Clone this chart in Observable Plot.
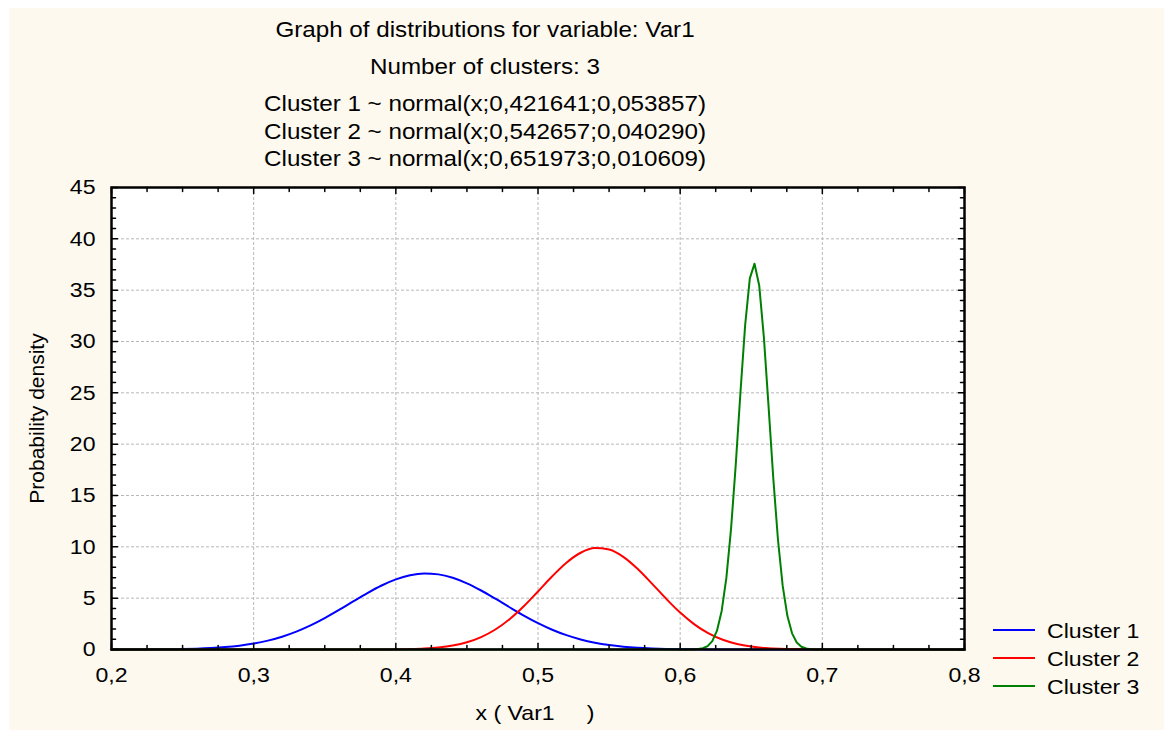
<!DOCTYPE html>
<html><head><meta charset="utf-8">
<script src="https://cdn.jsdelivr.net/npm/d3@7"></script>
<script src="https://cdn.jsdelivr.net/npm/@observablehq/plot@0.6"></script>
<style>
html,body{margin:0;padding:0;background:#fff;}
#wrap{position:relative;width:1168px;height:731px;overflow:hidden;font-family:"Liberation Sans",Arial,sans-serif;color:#000;}
#bg{position:absolute;left:9px;top:8px;width:1155px;height:722px;background:#fdf9ee;}
#chart{position:absolute;left:0;top:0;}
.t{position:absolute;left:185px;width:600px;text-align:center;font-size:22px;line-height:22px;white-space:pre;transform:scaleX(1.1);}
#ylab{position:absolute;left:-114px;top:408px;width:300px;height:21px;line-height:21px;font-size:21px;text-align:center;transform:rotate(-90deg);white-space:pre;}
#xlab{position:absolute;left:335px;top:702px;width:400px;text-align:center;font-size:21px;line-height:21px;white-space:pre;transform:scaleX(1.1);}
.lg{position:absolute;left:993px;height:21px;display:flex;align-items:center;font-size:21px;line-height:21px;white-space:pre;}
.lg .sw{width:42px;height:2px;}
.lg .tx{margin-left:12px;transform:scaleX(1.1);transform-origin:left center;}
</style></head>
<body>
<div id="wrap">
  <div id="bg"></div>
  <div id="chart"></div>
  <div id="titles"></div>
  <div id="ylab"></div>
  <div id="xlab"></div>
  <div id="legend"></div>
</div>
<script>
// ---- data ----
const titleLines = [
  "Graph of distributions for variable: Var1",
  "Number of clusters: 3",
  "Cluster 1 ~ normal(x;0,421641;0,053857)",
  "Cluster 2 ~ normal(x;0,542657;0,040290)",
  "Cluster 3 ~ normal(x;0,651973;0,010609)"
];
const xAxisTitle = "x ( Var1     )";
const yAxisTitle = "Probability density";
const seriesNames = ["Cluster 1", "Cluster 2", "Cluster 3"];
const seriesColors = ["#0000ff", "#ff0000", "#008000"];

const xMajor = [0.2, 0.3, 0.4, 0.5, 0.6, 0.7, 0.8];
const xTickLabels = ["0,2", "0,3", "0,4", "0,5", "0,6", "0,7", "0,8"];
const yMajor = [0, 5, 10, 15, 20, 25, 30, 35, 40, 45];
const yTickLabels = ["0", "5", "10", "15", "20", "25", "30", "35", "40", "45"];

const xGrid = [
  0.20,0.21,0.22,0.23,0.24,0.25,0.26,0.27,0.28,0.29,
  0.30,0.31,0.32,0.33,0.34,0.35,0.36,0.37,0.38,0.39,
  0.40,0.41,0.42,0.43,0.44,0.45,0.46,0.47,0.48,0.49,
  0.50,0.51,0.52,0.53,0.54,0.55,0.56,0.57,0.58,0.59,
  0.60,0.61,0.62,0.63,0.64,0.65,0.66,0.67,0.68,0.69,
  0.70,0.71,0.72,0.73,0.74,0.75,0.76,0.77,0.78,0.79,0.80
];
const cluster1 = [
  0.0016,0.0033,0.0067,0.0132,0.0251,0.0462,0.082,0.141,0.233,0.374,
  0.578,0.865,1.248,1.742,2.348,3.058,3.849,4.679,5.494,6.234,
  6.833,7.237,7.404,7.318,6.989,6.447,5.747,4.948,4.116,3.308,
  2.569,1.927,1.396,0.978,0.661,0.432,0.273,0.166,0.098,0.056,
  0.031,0.016,0.008,0.004,0.002,0.001,0.0004,0.0002,0.0001,0,
  0,0,0,0,0,0,0,0,0,0,0
];
const cluster2 = [
  0,0,0,0,0,0,0,0,0,0,
  0,0,0,0,0,0.0001,0.0003,0.0010,0.0029,0.0076,
  0.0188,0.0438,0.0963,0.199,0.385,0.703,1.207,1.947,2.955,4.215,
  5.653,7.129,8.453,9.425,9.880,9.739,9.027,7.865,6.445,4.965,
  3.596,2.450,1.569,0.945,0.535,0.285,0.1425,0.067,0.0297,0.0124,
  0.0048,0.0018,0.0006,0.0002,0,0,0,0,0,0,0
];
const cluster3X = [
  0.2,0.6061,0.6094,0.6127,0.6160,0.6193,0.6226,0.6259,0.6292,0.6325,0.6358,
  0.6391,0.6424,0.6457,0.6490,0.6523,0.6556,0.6589,0.6622,0.6655,0.6688,
  0.6721,0.6754,0.6787,0.6820,0.6853,0.6886,0.6919,0.6952,0.6985,0.8
];
const cluster3 = [
  0,0,0.012,0.040,0.120,0.328,0.814,1.835,3.755,6.975,11.77,
  18.01,25.03,31.57,36.15,37.58,35.46,30.38,23.63,16.68,10.69,
  6.216,3.284,1.574,0.685,0.271,0.097,0.032,0.009,0,0
];

// ---- build ----
const toRows = (xs, ys, name) => xs.map((x, i) => ({x, y: ys[i], name}));
const rows = [
  toRows(xGrid, cluster1, seriesNames[0]),
  toRows(xGrid, cluster2, seriesNames[1]),
  toRows(cluster3X, cluster3, seriesNames[2])
];
const curves = ["monotone-x", "monotone-x", "linear"];

const xMinor = d3.range(8, 33).filter(i => i % 4 !== 0).map(i => i * 0.025);
const yMinor = d3.range(0, 46).filter(v => v % 5 !== 0);
const fmtX = d => xTickLabels[xMajor.findIndex(v => Math.abs(v - d) < 1e-9)];
const fmtY = d => yTickLabels[yMajor.indexOf(d)];
const gridStyle = {stroke: "#b8b8b8", strokeOpacity: 1, strokeWidth: 1, strokeDasharray: "3,2"};

// inward tick marks on all four sides, drawn as short vectors anchored on the frame
const tickShape = {draw(context, l) { context.moveTo(0, 0); context.lineTo(0, -l); }};
const tickOpts = {shape: tickShape, anchor: "start", stroke: "#000", strokeWidth: 1.5};
const tickMarks = [
  Plot.vector(xMajor, {x: d => d, frameAnchor: "bottom", rotate: 0, length: 6, ...tickOpts}),
  Plot.vector(xMinor, {x: d => d, frameAnchor: "bottom", rotate: 0, length: 4, ...tickOpts}),
  Plot.vector(xMajor, {x: d => d, frameAnchor: "top", rotate: 180, length: 6, ...tickOpts}),
  Plot.vector(xMinor, {x: d => d, frameAnchor: "top", rotate: 180, length: 4, ...tickOpts}),
  Plot.vector(yMajor, {y: d => d, frameAnchor: "left", rotate: 90, length: 6, ...tickOpts}),
  Plot.vector(yMinor, {y: d => d, frameAnchor: "left", rotate: 90, length: 4, ...tickOpts}),
  Plot.vector(yMajor, {y: d => d, frameAnchor: "right", rotate: -90, length: 6, ...tickOpts}),
  Plot.vector(yMinor, {y: d => d, frameAnchor: "right", rotate: -90, length: 4, ...tickOpts})
];

const chart = Plot.plot({
  width: 1168,
  height: 731,
  marginLeft: 111,
  marginRight: 204,
  marginTop: 187,
  marginBottom: 82,
  style: {background: "transparent", fontFamily: "'Liberation Sans', Arial, sans-serif", fontSize: "21px", color: "#000", overflow: "visible"},
  x: {domain: [0.2, 0.8], label: null},
  y: {domain: [0, 45], label: null},
  marks: [
    Plot.frame({fill: "white", stroke: null}),
    Plot.gridX(xMajor.slice(1, -1), gridStyle),
    Plot.gridY(yMajor.slice(1, -1), gridStyle),
    ...rows.map((r, i) => Plot.line(r, {x: "x", y: "y", stroke: seriesColors[i], strokeWidth: 2, curve: curves[i]})),
    Plot.frame({stroke: "#000", strokeWidth: 2.5}),
    ...tickMarks,
    Plot.axisX(xMajor, {anchor: "bottom", tickSize: 0, tickPadding: 18, tickFormat: fmtX, label: null, fontSize: 21}),
    Plot.axisY(yMajor, {anchor: "left", tickSize: 0, tickPadding: 16, tickFormat: fmtY, label: null, fontSize: 21})
  ]
});
document.getElementById("chart").appendChild(chart);

// horizontal stretch of tick labels, as in the reference
d3.select(chart).selectAll('g[aria-label="x-axis tick label"] text, g[aria-label="y-axis tick label"] text')
  .each(function () {
    const t = this.getAttribute("transform") || "";
    this.setAttribute("transform", (t + " scale(1.1,1)").trim());
  });

// titles
const baselines = [38, 75, 112, 140, 167];
const titles = document.getElementById("titles");
titleLines.forEach((s, i) => {
  const d = document.createElement("div");
  d.className = "t";
  d.style.top = (baselines[i] - 18.6) + "px";
  d.textContent = s;
  titles.appendChild(d);
});
document.getElementById("ylab").textContent = yAxisTitle;
document.getElementById("xlab").textContent = xAxisTitle;

// legend
const legendY = [630, 658, 686];
const legend = document.getElementById("legend");
seriesNames.forEach((n, i) => {
  const row = document.createElement("div");
  row.className = "lg";
  row.style.top = (legendY[i] - 10.5) + "px";
  const sw = document.createElement("span");
  sw.className = "sw";
  sw.style.background = seriesColors[i];
  const tx = document.createElement("span");
  tx.className = "tx";
  tx.textContent = n;
  row.appendChild(sw);
  row.appendChild(tx);
  legend.appendChild(row);
});
</script>
</body></html>
